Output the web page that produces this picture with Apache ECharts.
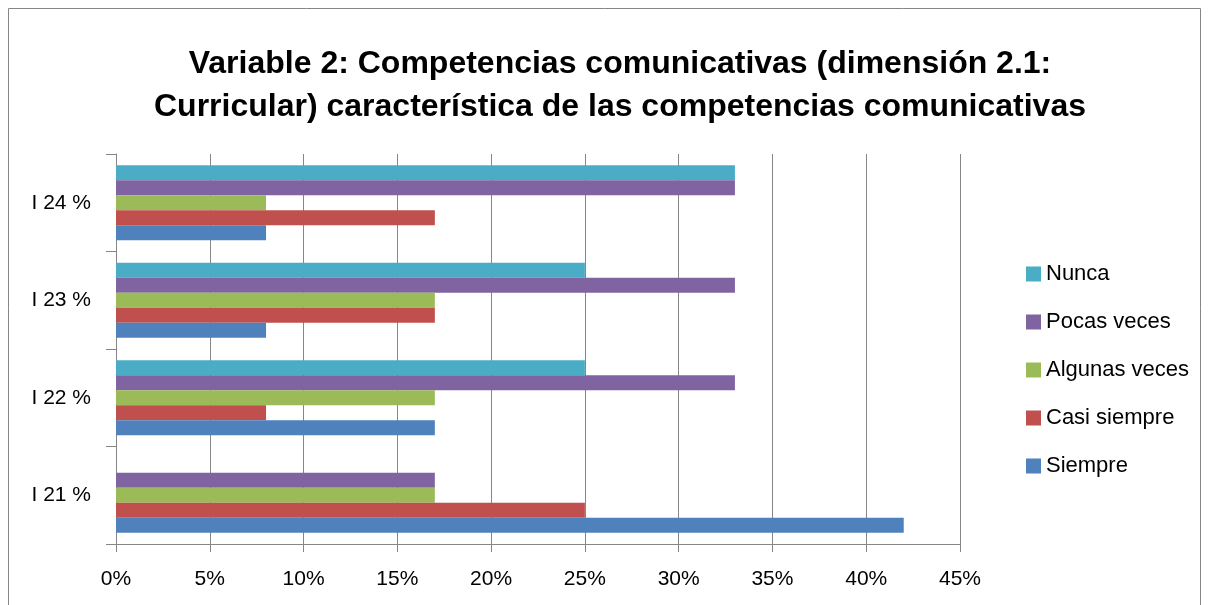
<!DOCTYPE html>
<html>
<head>
<meta charset="utf-8">
<script src="https://cdn.jsdelivr.net/npm/echarts@6/dist/echarts.min.js"></script>
<style>
  html, body { margin: 0; padding: 0; background: #fff; }
  #chart { width: 1210px; height: 605px; }
</style>
</head>
<body>
<div id="chart"></div>
<script>
let categories = ['I 21 %', 'I 22 %', 'I 23 %', 'I 24 %'];
let siempre = [42, 17, 8, 8];
let casiSiempre = [25, 8, 17, 17];
let algunasVeces = [17, 17, 17, 8];
let pocasVeces = [17, 33, 33, 33];
let nunca = [0, 25, 25, 33];
let legendOrder = ['Nunca', 'Pocas veces', 'Algunas veces', 'Casi siempre', 'Siempre'];

let fontFam = 'Liberation Sans, Arial, sans-serif';

function barSeries(name, data, color) {
    return {
        name: name,
        type: 'bar',
        data: data,
        barWidth: 15,
        barGap: '0%',
        itemStyle: { color: color },
        silent: true
    };
}

let chart = echarts.init(document.getElementById('chart'));
let option = {
    animation: false,
    textStyle: { fontFamily: fontFam },
    title: {
        text: 'Variable 2: Competencias comunicativas (dimensión 2.1:\nCurricular) característica de las competencias comunicativas',
        left: 615,
        top: 38,
        textAlign: 'center',
        textStyle: {
            fontSize: 32,
            fontWeight: 'bold',
            color: '#000',
            lineHeight: 43,
            fontFamily: fontFam
        }
    },
    graphic: [{
        type: 'rect',
        shape: { x: 8.5, y: 8.5, width: 1192, height: 610 },
        style: { fill: 'none', stroke: '#868686', lineWidth: 1 },
        silent: true
    }],
    legend: {
        orient: 'vertical',
        left: 1021,
        top: 258,
        itemWidth: 15,
        itemHeight: 15,
        itemGap: 26,
        icon: 'rect',
        data: legendOrder,
        textStyle: { fontSize: 22, color: '#000', fontFamily: fontFam }
    },
    grid: {
        left: 116,
        right: 250,
        top: 154,
        bottom: 61,
        containLabel: false
    },
    xAxis: {
        type: 'value',
        min: 0,
        max: 45,
        interval: 5,
        axisLine: { show: true, lineStyle: { color: '#868686' } },
        axisTick: { show: true, length: 8, lineStyle: { color: '#868686' } },
        splitLine: { show: true, lineStyle: { color: '#868686' } },
        axisLabel: {
            formatter: '{value}%',
            fontSize: 21,
            color: '#000',
            margin: 25
        }
    },
    yAxis: {
        type: 'category',
        data: categories,
        axisLine: { show: true, lineStyle: { color: '#868686' } },
        axisTick: { show: true, length: 10, lineStyle: { color: '#868686' } },
        axisLabel: { fontSize: 21, color: '#000', margin: 25 }
    },
    series: [
        barSeries('Nunca', nunca, '#4BACC6'),
        barSeries('Pocas veces', pocasVeces, '#8064A2'),
        barSeries('Algunas veces', algunasVeces, '#9BBB59'),
        barSeries('Casi siempre', casiSiempre, '#C0504D'),
        barSeries('Siempre', siempre, '#4F81BD')
    ]
};
chart.setOption(option);
</script>
</body>
</html>
